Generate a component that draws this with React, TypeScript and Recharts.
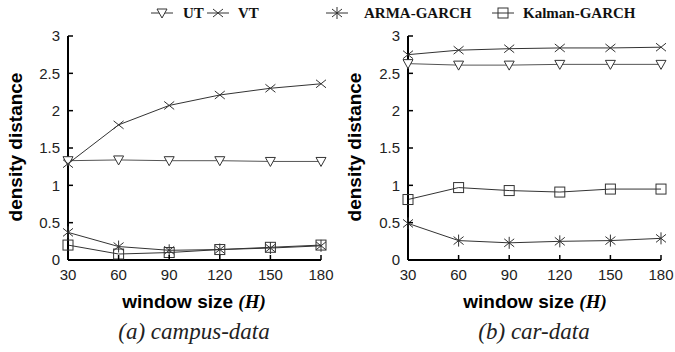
import React from 'react';
import { LineChart, Line, XAxis, YAxis } from 'recharts';

const windows = [30, 60, 90, 120, 150, 180];
const yTicks = [0, 0.5, 1, 1.5, 2, 2.5, 3];

const campusUT = [1.33, 1.34, 1.33, 1.33, 1.32, 1.32];
const campusVT = [1.29, 1.81, 2.07, 2.21, 2.3, 2.36];
const campusARMA = [0.37, 0.18, 0.13, 0.14, 0.16, 0.19];
const campusKalman = [0.2, 0.08, 0.1, 0.14, 0.17, 0.2];

const carUT = [2.63, 2.61, 2.61, 2.62, 2.62, 2.62];
const carVT = [2.75, 2.81, 2.83, 2.84, 2.84, 2.85];
const carARMA = [0.49, 0.26, 0.23, 0.25, 0.26, 0.29];
const carKalman = [0.81, 0.97, 0.93, 0.91, 0.95, 0.95];

const seriesNames = ['UT', 'VT', 'ARMA-GARCH', 'Kalman-GARCH'];

const build = (ut: number[], vt: number[], arma: number[], kal: number[]) =>
  windows.map((w, i) => ({ w, ut: ut[i], vt: vt[i], arma: arma[i], kal: kal[i] }));

const campusData = build(campusUT, campusVT, campusARMA, campusKalman);
const carData = build(carUT, carVT, carARMA, carKalman);

const LINE = '#333';
const SANS = '"Liberation Sans", Arial, sans-serif';
const SERIF = '"Liberation Serif", "Times New Roman", serif';

type Kind = 'tri' | 'x' | 'star' | 'sq';

const Marker = ({ kind, cx, cy }: { kind: Kind; cx: number; cy: number }) => {
  const s = 5;
  if (kind === 'tri')
    return (
      <polygon
        points={`${cx - s},${cy - 4} ${cx + s},${cy - 4} ${cx},${cy + 5}`}
        fill="#fff"
        stroke={LINE}
        strokeWidth={1}
      />
    );
  if (kind === 'sq')
    return <rect x={cx - 5} y={cy - 5} width={10} height={10} fill="none" stroke={LINE} strokeWidth={1} />;
  if (kind === 'x')
    return (
      <g stroke={LINE} strokeWidth={1}>
        <line x1={cx - s} y1={cy - 4} x2={cx + s} y2={cy + 4} />
        <line x1={cx - s} y1={cy + 4} x2={cx + s} y2={cy - 4} />
      </g>
    );
  return (
    <g stroke={LINE} strokeWidth={1}>
      <line x1={cx - s} y1={cy - 4} x2={cx + s} y2={cy + 4} />
      <line x1={cx - s} y1={cy + 4} x2={cx + s} y2={cy - 4} />
      <line x1={cx} y1={cy - 6} x2={cx} y2={cy + 6} />
    </g>
  );
};

const makeDot = (kind: Kind) => (props: any) => (
  <Marker key={`${kind}-${props.index}`} kind={kind} cx={props.cx} cy={props.cy} />
);

const YTick = (props: any) => {
  const { x, y, payload } = props;
  return (
    <g>
      <line x1={x} y1={y} x2={x + 5} y2={y} stroke="#000" strokeWidth={1.5} />
      <text x={x - 8} y={y + 5.4} textAnchor="end" fontFamily={SANS} fontSize={15} fill="#222">
        {payload.value}
      </text>
    </g>
  );
};

const XTick = (props: any) => {
  const { x, y, payload } = props;
  return (
    <g>
      <line x1={x} y1={y} x2={x} y2={y - 5} stroke="#000" strokeWidth={1.5} />
      <text x={x} y={y + 19.5} textAnchor="middle" fontFamily={SANS} fontSize={15} fill="#222">
        {payload.value}
      </text>
    </g>
  );
};

const Panel = ({ data, width, marginLeft, marginRight }: any) => (
  <LineChart
    width={width}
    height={352}
    data={data}
    margin={{ top: 36, right: marginRight, bottom: 62, left: marginLeft }}
  >
    <XAxis
      dataKey="w"
      type="number"
      domain={[30, 180]}
      ticks={windows}
      height={30}
      tickSize={0}
      tickMargin={0}
      tickLine={false}
      axisLine={{ stroke: '#000', strokeWidth: 2 }}
      tick={<XTick />}
      interval={0}
    />
    <YAxis
      type="number"
      domain={[0, 3]}
      ticks={yTicks}
      width={38}
      tickSize={0}
      tickMargin={0}
      tickLine={false}
      axisLine={{ stroke: '#000', strokeWidth: 2 }}
      tick={<YTick />}
      interval={0}
    />
    <Line dataKey="ut" stroke="#555" strokeWidth={1} dot={makeDot('tri')} isAnimationActive={false} />
    <Line dataKey="vt" stroke={LINE} strokeWidth={1} dot={makeDot('x')} isAnimationActive={false} />
    <Line dataKey="arma" stroke={LINE} strokeWidth={1} dot={makeDot('star')} isAnimationActive={false} />
    <Line dataKey="kal" stroke={LINE} strokeWidth={1} dot={makeDot('sq')} isAnimationActive={false} />
  </LineChart>
);

const LegendItem = ({ kind, label, glyphLeft, textLeft }: any) => (
  <>
    <svg style={{ position: 'absolute', left: glyphLeft, top: 6 }} width={24} height={14}>
      <line x1={0} y1={7} x2={22} y2={7} stroke={LINE} strokeWidth={1} />
      <Marker kind={kind} cx={11} cy={7} />
    </svg>
    <div
      style={{
        position: 'absolute',
        left: textLeft,
        top: 0,
        height: 26,
        lineHeight: '26px',
        fontFamily: SERIF,
        fontWeight: 'bold',
        fontSize: 15,
        color: '#111',
        whiteSpace: 'nowrap',
      }}
    >
      {label}
    </div>
  </>
);

const YTitle = ({ cx }: { cx: number }) => (
  <div
    style={{
      position: 'absolute',
      left: cx,
      top: 147,
      transform: 'translate(-50%, -50%) rotate(-90deg)',
      fontFamily: SANS,
      fontWeight: 'bold',
      fontSize: 19,
      whiteSpace: 'nowrap',
      color: '#000',
    }}
  >
    density distance
  </div>
);

const XTitle = ({ cx }: { cx: number }) => (
  <div
    style={{
      position: 'absolute',
      left: cx,
      top: 302,
      transform: 'translate(-50%, -50%)',
      fontFamily: SANS,
      fontWeight: 'bold',
      fontSize: 19,
      whiteSpace: 'nowrap',
      color: '#000',
    }}
  >
    window size <span style={{ fontFamily: SERIF, fontStyle: 'italic' }}>(H)</span>
  </div>
);

const Caption = ({ cx, text }: { cx: number; text: string }) => (
  <div
    style={{
      position: 'absolute',
      left: cx,
      top: 332,
      transform: 'translate(-50%, -50%)',
      fontFamily: SERIF,
      fontStyle: 'italic',
      fontSize: 23,
      whiteSpace: 'nowrap',
      color: '#222',
    }}
  >
    {text}
  </div>
);

export default function App() {
  return (
    <div
      style={{
        position: 'fixed',
        left: 0,
        top: 0,
        width: 675,
        height: 352,
        background: '#fff',
        overflow: 'hidden',
      }}
    >
      <div style={{ position: 'absolute', left: 0, top: 0 }}>
        <Panel data={campusData} width={337} marginLeft={30} marginRight={16} />
      </div>
      <div style={{ position: 'absolute', left: 337, top: 0 }}>
        <Panel data={carData} width={338} marginLeft={33} marginRight={14} />
      </div>
      <LegendItem kind="tri" label={seriesNames[0]} glyphLeft={151} textLeft={183} />
      <LegendItem kind="x" label={seriesNames[1]} glyphLeft={207} textLeft={238} />
      <LegendItem kind="star" label={seriesNames[2]} glyphLeft={326} textLeft={364} />
      <LegendItem kind="sq" label={seriesNames[3]} glyphLeft={492} textLeft={523} />
      <YTitle cx={16} />
      <YTitle cx={355} />
      <XTitle cx={194} />
      <XTitle cx={535} />
      <Caption cx={194} text="(a) campus-data" />
      <Caption cx={534} text="(b) car-data" />
    </div>
  );
}
